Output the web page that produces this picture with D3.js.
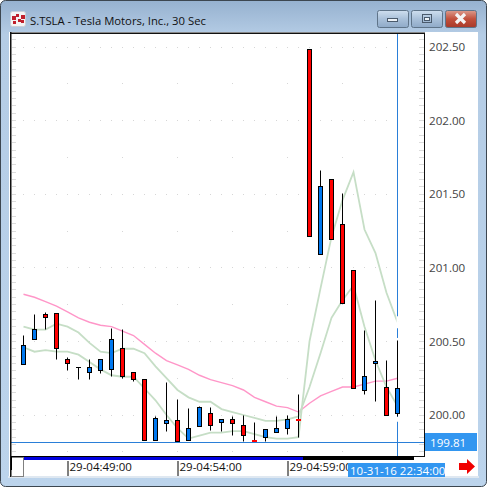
<!DOCTYPE html>
<html>
<head>
<meta charset="utf-8">
<style>
  html, body { margin: 0; padding: 0; background: #fff; }
  svg { display: block; }
  text { font-family: "Open Sans", sans-serif; }
</style>
<script src="https://cdn.jsdelivr.net/npm/d3@7"></script>
</head>
<body>
<div id="chart"></div>
<script>
var title = "S.TSLA - Tesla Motors, Inc., 30 Sec";

// candles, one every 30 sec
var opens  = [200.342,200.512,200.684,200.691,200.378,200.324,200.287,200.304,200.308,200.453,200.290,200.243,199.828,199.941,199.964,199.828,199.921,200.012,199.948,199.971,199.930,199.828,199.846,199.880,199.907,199.970,202.486,201.092,201.601,201.296,200.983,200.165,200.351,200.188,200.009];
var highs  = [200.537,200.686,200.693,200.691,200.392,200.324,200.378,200.378,200.591,200.582,200.290,200.243,199.993,200.224,200.102,200.041,200.061,200.054,199.971,199.993,200.000,199.946,199.903,199.993,199.998,200.136,202.486,201.662,201.601,201.506,200.983,200.571,200.781,200.367,200.503];
var lows   = [200.342,200.512,200.584,200.374,200.301,200.240,200.240,200.281,200.260,200.247,200.226,199.828,199.828,199.887,199.819,199.828,199.921,199.898,199.885,199.864,199.817,199.822,199.817,199.880,199.866,199.846,201.211,201.092,201.194,200.759,200.181,200.138,200.090,199.998,199.988];
var closes = [200.473,200.582,200.661,200.453,200.351,200.324,200.324,200.378,200.514,200.260,200.240,199.828,199.978,199.964,199.819,199.910,200.052,199.927,199.971,199.941,199.859,199.822,199.903,199.910,199.971,199.963,201.211,201.554,201.194,200.759,200.181,200.263,200.365,199.998,200.181];

// moving averages
var maLong = [200.82,200.80,200.77,200.74,200.70,200.66,200.63,200.61,200.60,200.57,200.54,200.48,200.42,200.37,200.34,200.31,200.27,200.24,200.22,200.20,200.17,200.12,200.09,200.06,200.05,200.02,200.08,200.13,200.16,200.19,200.19,200.21,200.23,200.23,200.25];
var maMid  = [200.60,200.58,200.58,200.62,200.60,200.56,200.49,200.43,200.42,200.45,200.45,200.42,200.33,200.25,200.17,200.12,200.09,200.09,200.04,200.02,200.00,199.98,199.96,199.96,199.97,199.99,200.19,200.42,200.66,200.78,200.88,200.60,200.37,200.19,200.06];
var maFast = [200.46,200.43,200.44,200.43,200.43,200.41,200.36,200.31,200.27,200.26,200.26,200.18,200.10,200.00,199.91,199.84,199.86,199.88,199.88,199.89,199.89,199.87,199.85,199.84,199.84,199.85,200.50,200.86,201.21,201.46,201.65,201.26,201.10,200.83,200.63];

var yTicks = [200.00,200.50,201.00,201.50,202.00,202.50];
var xTickBars = [4,14,24];
var xTickLabels = ["29-04:49:00","29-04:54:00","29-04:59:00"];
var cursorBar = 34;
var cursorPrice = 199.81;
var cursorLabel = "10-31-16 22:34:00";

var w = 487, h = 487;
var plot = {left: 11, right: 424, top: 33, bottom: 456};

var svg = d3.select("#chart").append("svg")
  .attr("width", w)
  .attr("height", h)
  .attr("viewBox", "0 0 " + w + " " + h);

var x = d3.scaleLinear().domain([0, 34]).range([23.5, 397.5]);
var y = d3.scaleLinear().domain([200, 202.5]).range([415, 47]);
var py = function (v) { return Math.floor(y(v)) + 0.5; };
var bars = d3.range(opens.length);

// window frame
var defs = svg.append("defs");
var frameGrad = defs.append("linearGradient").attr("id", "frameGrad")
  .attr("x1", 0).attr("y1", 0).attr("x2", 0).attr("y2", 1);
frameGrad.append("stop").attr("offset", 0).attr("stop-color", "#96b1cf");
frameGrad.append("stop").attr("offset", 0.07).attr("stop-color", "#b4cce5");
frameGrad.append("stop").attr("offset", 1).attr("stop-color", "#bcd4ec");

function buttonGrad(id, a, b, c) {
  var g = defs.append("linearGradient").attr("id", id)
    .attr("x1", 0).attr("y1", 0).attr("x2", 0).attr("y2", 1);
  g.append("stop").attr("offset", 0).attr("stop-color", a);
  g.append("stop").attr("offset", 0.5).attr("stop-color", b);
  g.append("stop").attr("offset", 1).attr("stop-color", c);
}
buttonGrad("btnGrad", "#cfdfef", "#a9c0d9", "#8faac8");
buttonGrad("closeGrad", "#dc9b8c", "#c2503c", "#a83a2a");

svg.append("rect").attr("width", w).attr("height", h).attr("fill", "#fff");
svg.append("rect").attr("x", 0.5).attr("y", 0.5).attr("width", w - 1).attr("height", h - 1)
  .attr("rx", 5).attr("fill", "url(#frameGrad)").attr("stroke", "#3c4650");
svg.append("rect").attr("x", 9).attr("y", 32).attr("width", 469).attr("height", 445)
  .attr("fill", "#fff").attr("stroke", "none");
svg.append("rect").attr("x", 8).attr("y", 476).attr("width", 471).attr("height", 2).attr("fill", "#dfe8f1");

// icon
var icon = svg.append("g");
icon.append("rect").attr("x", 10.5).attr("y", 11.5).attr("width", 15).attr("height", 15)
  .attr("rx", 2).attr("fill", "#f4f4f4").attr("stroke", "#c8d0d8");
[[12, 16, 4], [16, 14, 3], [21, 15, 4], [13, 21, 3], [18, 19, 3], [21, 20, 3]].forEach(function (s) {
  icon.append("rect").attr("x", s[0]).attr("y", s[1]).attr("width", s[2]).attr("height", s[2]).attr("fill", "#c0202c");
});

svg.append("text").attr("x", 30).attr("y", 24.5)
  .attr("font-size", 11.3).attr("fill", "#111").text(title);

// min / max / close
[[377.5, "url(#btnGrad)"], [411.5, "url(#btnGrad)"], [445.5, "url(#closeGrad)"]].forEach(function (b) {
  svg.append("rect").attr("x", b[0]).attr("y", 10.5).attr("width", 31).attr("height", 17)
    .attr("rx", 2).attr("fill", b[1]).attr("stroke", "#5f7489");
});
svg.append("rect").attr("x", 387.5).attr("y", 18.5).attr("width", 10).attr("height", 3)
  .attr("fill", "#eef3f8").attr("stroke", "#4a5a6c");
svg.append("rect").attr("x", 422.5).attr("y", 14.5).attr("width", 9).attr("height", 8)
  .attr("fill", "none").attr("stroke", "#4a5a6c");
svg.append("rect").attr("x", 424.5).attr("y", 17.5).attr("width", 5).attr("height", 3)
  .attr("fill", "#eef3f8").attr("stroke", "#4a5a6c");
svg.append("path").attr("d", "M456 14 L465 23 M465 14 L456 23")
  .attr("stroke", "#f4f4f4").attr("stroke-width", 3.2);

// plot background
var vis = svg.append("g");

// dotted grid, horizontal rows sit on the price ticks
yTicks.forEach(function (t) {
  bars.forEach(function (b) {
    vis.append("rect").attr("x", Math.floor(x(b))).attr("y", Math.floor(y(t)))
      .attr("width", 1).attr("height", 1).attr("fill", "#d6d6d6");
  });
});
// vertical columns every 5 bars, dots at each quarter dollar
d3.range(4, 35, 5).forEach(function (b) {
  d3.range(200, 202.75, 0.25).concat([199.75]).forEach(function (t) {
    vis.append("rect").attr("x", Math.floor(x(b))).attr("y", Math.floor(y(t)))
      .attr("width", 1).attr("height", 1).attr("fill", "#d6d6d6");
  });
});

// minor price ticks on both edges
d3.range(199.75, 202.75, 0.05).forEach(function (t) {
  if (y(t) < plot.top || y(t) > plot.bottom) return;
  vis.append("rect").attr("x", plot.left + 1).attr("y", Math.floor(y(t))).attr("width", 4).attr("height", 1).attr("fill", "#dcdcdc");
  vis.append("rect").attr("x", plot.right - 5).attr("y", Math.floor(y(t))).attr("width", 5).attr("height", 1).attr("fill", "#dcdcdc");
});

// moving averages
var line = d3.line().x(function (d, i) { return x(i); }).y(function (d) { return y(d); });
vis.append("path").datum(maLong).attr("d", line).attr("fill", "none").attr("stroke", "#ff96c8").attr("stroke-width", 1.4);
vis.append("path").datum(maMid).attr("d", line).attr("fill", "none").attr("stroke", "#c6dec6").attr("stroke-width", 1.8);
vis.append("path").datum(maFast).attr("d", line).attr("fill", "none").attr("stroke", "#c6dec6").attr("stroke-width", 1.8);

// cursor lines
var cursorColor = "#2a7fd8";
vis.append("line").attr("x1", x(cursorBar)).attr("x2", x(cursorBar))
  .attr("y1", plot.top).attr("y2", plot.bottom).attr("stroke", cursorColor);
vis.append("line").attr("x1", plot.left).attr("x2", plot.right)
  .attr("y1", py(cursorPrice)).attr("y2", py(cursorPrice)).attr("stroke", cursorColor);

// the cursor is knocked out around the last fast average and the last candle
[[y(maFast[cursorBar]) - 6, 12], [y(highs[cursorBar]) - 3, 3], [y(lows[cursorBar]), 5]].forEach(function (g) {
  vis.append("rect").attr("x", x(cursorBar) - 1).attr("y", g[0]).attr("width", 2).attr("height", g[1]).attr("fill", "#fff");
});

// candles
var candle = vis.selectAll("g.candle").data(bars).enter().append("g").attr("class", "candle");

candle.append("line")
  .attr("x1", function (i) { return x(i); })
  .attr("x2", function (i) { return x(i); })
  .attr("y1", function (i) { return py(highs[i]); })
  .attr("y2", function (i) { return py(lows[i]); })
  .attr("stroke", "#000");

candle.each(function (i) {
  var g = d3.select(this);
  var top = py(Math.max(opens[i], closes[i]));
  var bot = py(Math.min(opens[i], closes[i]));
  if (bot - top < 1) {
    // flat bar
    g.append("line").attr("x1", x(i) - 2.5).attr("x2", x(i) + 2.5)
      .attr("y1", top).attr("y2", top).attr("stroke", "#000");
  } else if (i == 21 || i == 25) {
    // barely moved, drawn as a red dash with no outline
    g.append("rect").attr("x", x(i) - 2.5).attr("y", top - 0.5)
      .attr("width", 5).attr("height", 2).attr("fill", "#ff0000");
  } else {
    g.append("rect").attr("x", x(i) - 2).attr("y", top)
      .attr("width", 4).attr("height", bot - top)
      .attr("fill", closes[i] >= opens[i] ? "#0078f0" : "#ff0000")
      .attr("stroke", "#000");
  }
});

// plot borders
svg.append("rect").attr("x", 10).attr("y", 32).attr("width", 1.5).attr("height", 445).attr("fill", "#111");
svg.append("rect").attr("x", 10).attr("y", 32.5).attr("width", 415).attr("height", 1.5).attr("fill", "#111");
svg.append("rect").attr("x", plot.right).attr("y", 33).attr("width", 1).attr("height", plot.bottom - 33).attr("fill", "#111");
svg.append("rect").attr("x", 11).attr("y", plot.bottom).attr("width", 414).attr("height", 1).attr("fill", "#111");

// price axis
var yAxis = d3.axisRight(y).tickValues(yTicks).tickFormat(d3.format(".2f")).tickSize(0).tickPadding(0);
var yAxisG = svg.append("g").attr("transform", "translate(429,0)").call(yAxis);
yAxisG.select(".domain").remove();
yAxisG.selectAll("text").attr("font-size", 11.6).attr("font-family", "\"Open Sans\", sans-serif").attr("fill", "#444");

// scroll bar
svg.append("rect").attr("x", 11).attr("y", 456).attr("width", 403).attr("height", 4).attr("fill", "#000");
svg.append("rect").attr("x", 24).attr("y", 457).attr("width", 279).attr("height", 3).attr("fill", "#0000e0");
svg.append("rect").attr("x", 11.5).attr("y", 457.5).attr("width", 12).attr("height", 19)
  .attr("fill", "#fff").attr("stroke", "#808080");
svg.append("rect").attr("x", 11).attr("y", 457).attr("width", 1).attr("height", 13).attr("fill", "#000");

// time axis
var xAxis = d3.axisBottom(x).tickValues(xTickBars)
  .tickFormat(function (d, i) { return xTickLabels[i]; })
  .tickSize(15).tickPadding(0);
var xAxisG = svg.append("g").attr("transform", "translate(0,461)").call(xAxis);
xAxisG.select(".domain").remove();
xAxisG.selectAll("line").attr("stroke", "#000");
xAxisG.selectAll("text")
  .attr("text-anchor", "start").attr("x", function () { return 1.5; }).attr("y", 2)
  .attr("font-size", 11.5).attr("font-family", "\"Open Sans\", sans-serif").attr("fill", "#111");

// cursor labels
var labelColor = "#3296f0";
svg.append("rect").attr("x", 425).attr("y", py(cursorPrice) - 9.5).attr("width", 52).attr("height", 18).attr("fill", labelColor);
svg.append("text").attr("x", 430).attr("y", py(cursorPrice) + 4.5).attr("font-size", 11.6).attr("fill", "#fff")
  .text(d3.format(".2f")(cursorPrice));
svg.append("rect").attr("x", 348).attr("y", 463).attr("width", 97).attr("height", 14).attr("fill", labelColor);
svg.append("text").attr("x", 350).attr("y", 474.5).attr("font-size", 11.5).attr("fill", "#fff").text(cursorLabel);

// scroll arrow
svg.append("path").attr("d", "M459 463 L467 463 L467 459 L475 466.5 L467 474 L467 470 L459 470 Z").attr("fill", "#f00000");
</script>
</body>
</html>
